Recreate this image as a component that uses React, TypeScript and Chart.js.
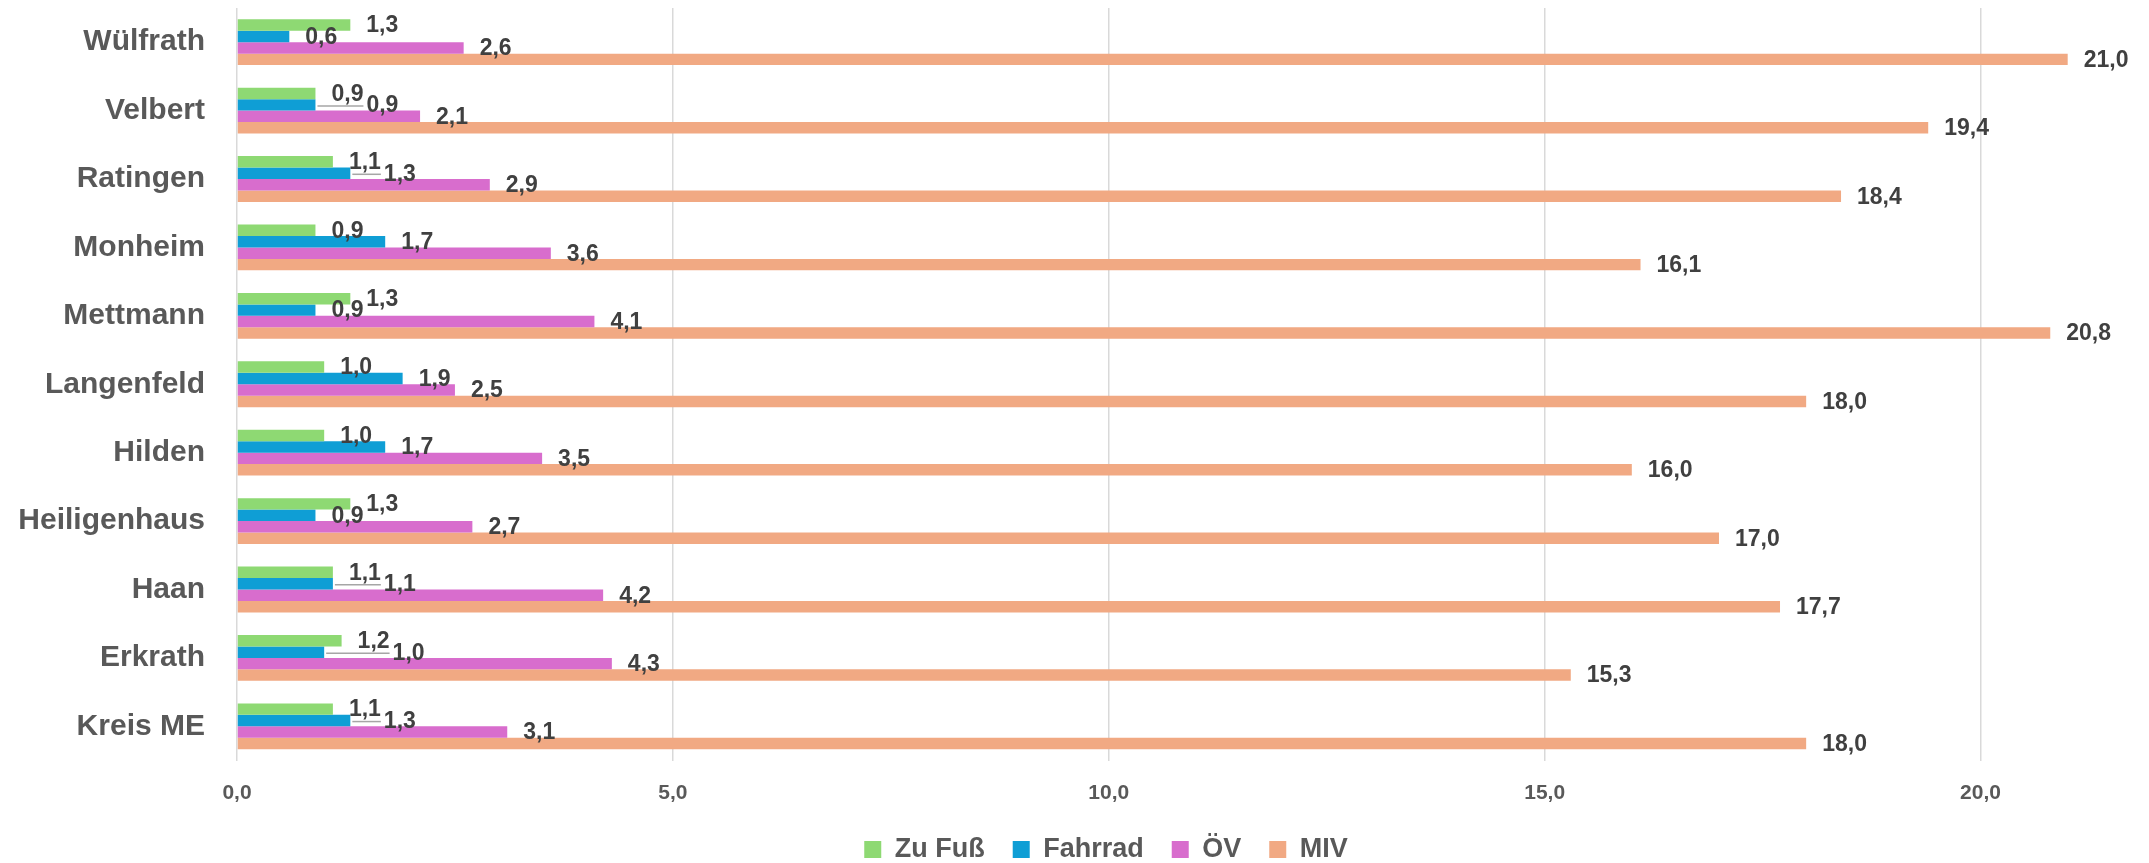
import React, { useEffect, useRef } from "react";
import { Chart, registerables } from "chart.js";

Chart.register(...registerables);

const categories = ["Wülfrath", "Velbert", "Ratingen", "Monheim", "Mettmann", "Langenfeld", "Hilden", "Heiligenhaus", "Haan", "Erkrath", "Kreis ME"];
const zuFuss = [1.3, 0.9, 1.1, 0.9, 1.3, 1.0, 1.0, 1.3, 1.1, 1.2, 1.1];
const fahrrad = [0.6, 0.9, 1.3, 1.7, 0.9, 1.9, 1.7, 0.9, 1.1, 1.0, 1.3];
const oev = [2.6, 2.1, 2.9, 3.6, 4.1, 2.5, 3.5, 2.7, 4.2, 4.3, 3.1];
const miv = [21.0, 19.4, 18.4, 16.1, 20.8, 18.0, 16.0, 17.0, 17.7, 15.3, 18.0];
const seriesNames = ["Zu Fuß", "Fahrrad", "ÖV", "MIV"];
const seriesColors = ["#8ED973", "#0F9ED5", "#D86DCD", "#F1A983"];

const FONT = "'Liberation Sans', Arial, sans-serif";
const fmt = (v: number) => v.toFixed(1).replace(".", ",");

const valueLabels = {
  id: "valueLabels",
  afterDatasetsDraw(chart: any) {
    const ctx = chart.ctx;
    ctx.save();
    ctx.font = `bold 23px ${FONT}`;
    ctx.textAlign = "left";
    ctx.textBaseline = "middle";
    const n = chart.data.labels.length;
    for (let i = 0; i < n; i++) {
      let prevLeft = Infinity;
      let prevRight = -Infinity;
      let prevY = -Infinity;
      chart.data.datasets.forEach((ds: any, di: number) => {
        const el = chart.getDatasetMeta(di).data[i];
        const text = fmt(ds.data[i]);
        const w = ctx.measureText(text).width;
        let x = el.x + 16;
        const y = el.y + 1;
        const overlaps = Math.abs(y - prevY) < 18 && x < prevRight + 1 && x + w > prevLeft - 1;
        if (overlaps) {
          const nx = prevRight + 3;
          ctx.strokeStyle = "#A6A6A6";
          ctx.lineWidth = 1.5;
          ctx.beginPath();
          ctx.moveTo(el.x + 2, y);
          ctx.lineTo(nx - 3, y);
          ctx.stroke();
          x = nx;
        }
        ctx.fillStyle = "#404040";
        ctx.fillText(text, x, y);
        prevLeft = x;
        prevRight = x + w;
        prevY = y;
      });
    }
    ctx.restore();
  },
};

const legendShift = {
  id: "legendShift",
  afterLayout(chart: any) {
    const lg = chart.legend;
    if (lg) {
      lg.left += 46;
      lg.right += 46;
    }
  },
};

export default function App() {
  const ref = useRef<HTMLCanvasElement>(null);
  useEffect(() => {
    const data = [zuFuss, fahrrad, oev, miv];
    const chart = new Chart(ref.current!, {
      type: "bar",
      data: {
        labels: categories,
        datasets: seriesNames.map((n, i) => ({
          label: n,
          data: data[i],
          backgroundColor: seriesColors[i],
          categoryPercentage: 0.67,
          barPercentage: 1.0,
        })),
      },
      plugins: [valueLabels, legendShift],
      options: {
        indexAxis: "y",
        responsive: false,
        animation: false,
        devicePixelRatio: 1,
        layout: { padding: { left: 0, right: 29, top: 8, bottom: -10 } },
        plugins: {
          legend: {
            position: "bottom",
            labels: {
              font: { family: FONT, size: 27, weight: "bold" },
              color: "#595959",
              boxWidth: 17,
              boxHeight: 17,
              padding: 28,
            },
          },
          tooltip: { enabled: false },
        },
        scales: {
          x: {
            min: 0,
            max: 21.6,
            afterFit: (s: any) => {
              s.height = 47.5;
              s.paddingLeft = 0;
              s.paddingRight = 0;
            },
            ticks: {
              stepSize: 5,
              includeBounds: false,
              callback: (v: any) => fmt(Number(v)),
              font: { family: FONT, size: 21, weight: "bold" },
              color: "#595959",
              padding: 20,
              maxRotation: 0,
            },
            grid: { color: "#D9D9D9", lineWidth: 1.5, drawTicks: false },
            border: { display: false },
          },
          y: {
            afterFit: (s: any) => {
              s.width = 237;
              s.paddingTop = 0;
              s.paddingBottom = 0;
            },
            ticks: {
              font: { family: FONT, size: 30, weight: "bold" },
              color: "#595959",
              padding: 32,
            },
            grid: { display: false, drawTicks: false },
            border: { display: false },
          },
        },
      },
    } as any);
    return () => chart.destroy();
  }, []);
  return (
    <div style={{ position: "fixed", left: 0, top: 0, width: 2149, height: 863, background: "#fff" }}>
      <canvas ref={ref} width={2149} height={863} />
    </div>
  );
}
